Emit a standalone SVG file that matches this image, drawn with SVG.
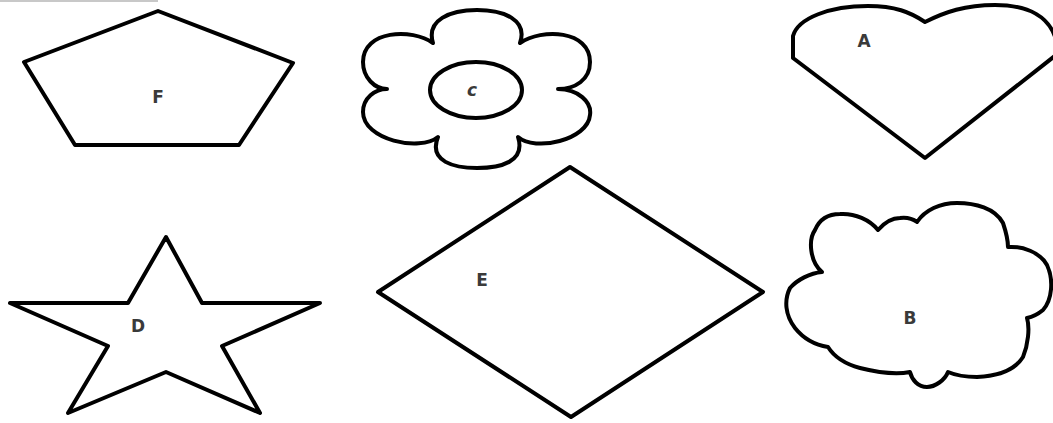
<svg xmlns="http://www.w3.org/2000/svg" width="1053" height="423" viewBox="0 0 1053 423">
<style>
.s{fill:#fff;stroke:#000;stroke-width:4;stroke-linejoin:round}
.l{font-family:"DejaVu Sans","Liberation Sans",sans-serif;font-size:17px;font-weight:bold;fill:#3a3a3a;text-anchor:middle;dominant-baseline:central}
</style>
<rect width="1053" height="423" fill="#fff"/>
<rect x="0" y="0" width="158" height="2" fill="#c8c8c8"/>
<g id="F">
<polygon class="s" points="158,11 24,62 75,145 239,145 293,63"/>
<text class="l" x="158" y="97">F</text>
</g>
<g id="C">
<path class="s" d="M433,43 C426,20 450,10 477,10 C504,10 528,20 520,43 C542,28 590,30 590,62 C590,80 575,89 558,89 C578,89 592,102 590,115 C588,140 535,152 518,137 C526,162 500,168 477,168 C455,168 428,162 438,137 C420,152 363,140 363,112 C363,98 375,89 387,89 C375,89 363,78 363,62 C363,30 412,28 433,43 Z"/>
<ellipse class="s" cx="476" cy="90" rx="46" ry="28"/>
<text class="l" x="472" y="90" font-style="italic">c</text>
</g>
<g id="A">
<path class="s" d="M925,158 L793,58 L793,36 C798,18 830,6 868,6 C895,6 910,12 925,22 C945,12 965,5 995,5 C1030,5 1050,18 1056,40 L1056,55 Z"/>
<text class="l" x="864" y="41" font-size="14">A</text>
</g>
<g id="D">
<polygon class="s" points="166,237 202,303 320,303 222,346 260,413 166,372 68,413 108,346 10,303 128,303"/>
<text class="l" x="138" y="326">D</text>
</g>
<g id="E">
<polygon class="s" points="570,167 763,292 571,417 378,292"/>
<text class="l" x="482" y="280">E</text>
</g>
<g id="B">
<path class="s" d="M822,272 C810,262 808,240 815,230 C820,218 830,214 840,214 C855,213 870,220 878,230 C885,222 893,218 900,218 C908,217 913,219 917,222 C925,210 940,203 957,203 C975,203 995,208 1003,223 C1006,232 1008,240 1008,247 C1022,246 1040,252 1047,265 C1054,280 1052,300 1043,310 C1037,315 1032,317 1027,318 C1030,328 1028,345 1023,357 C1015,370 1000,376 977,377 C965,377 955,375 948,372 C945,380 935,387 927,387 C918,387 912,380 910,372 C895,375 880,373 860,368 C845,364 835,358 828,347 C815,345 803,338 795,328 C785,315 784,300 790,288 C797,280 810,273 822,272 Z"/>
<text class="l" x="910" y="318">B</text>
</g>
</svg>
